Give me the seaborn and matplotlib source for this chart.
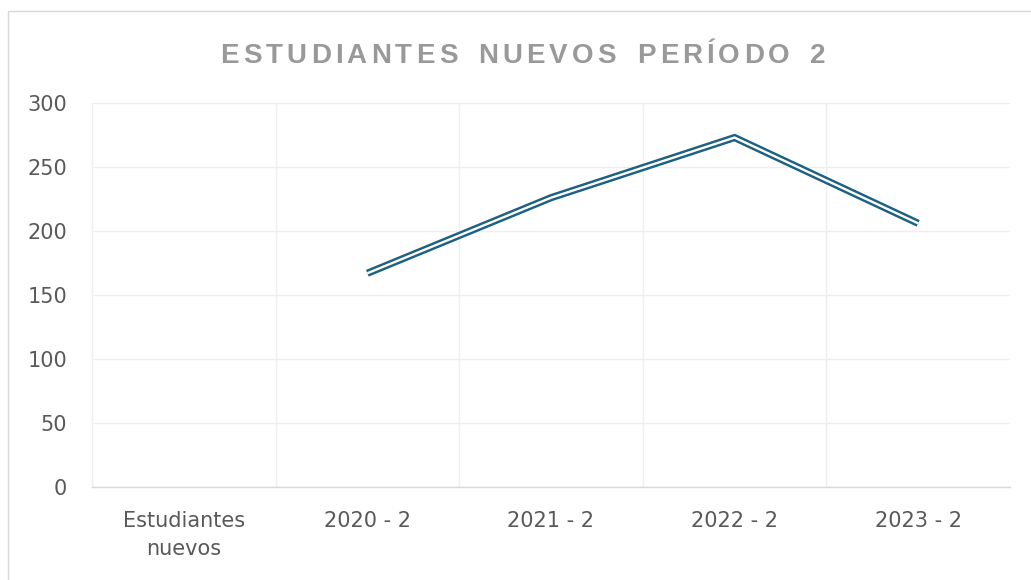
import matplotlib
matplotlib.use("Agg")
import matplotlib.pyplot as plt
import seaborn as sns
import numpy as np
import pandas as pd
from matplotlib.patches import Rectangle

# data
categorias = ["Estudiantes\nnuevos", "2020 - 2", "2021 - 2", "2022 - 2", "2023 - 2"]
estudiantes = [np.nan, 167, 226, 273, 206]
y_ticks = [0, 50, 100, 150, 200, 250, 300]
titulo = "ESTUDIANTES NUEVOS PERÍODO 2"

df = pd.DataFrame({"pos": range(len(categorias)), "valor": estudiantes})

sns.set_style("white")
plt.rcParams["font.family"] = ["DejaVu Sans"]

fig = plt.figure(figsize=(10.31, 5.80), dpi=100)
ax = fig.add_axes([0.0892, 0.1603, 0.8904, 0.6621])

# chart border (runs off the right and bottom of the image)
fig.patches.append(Rectangle((0.008, -0.2), 1.2, 1.181, transform=fig.transFigure,
                             fill=False, edgecolor="#d9d9d9", linewidth=1.0))

# double line: thick coloured stroke with a thin white stroke on top
linea = "#1c6082"
sns.lineplot(data=df, x="pos", y="valor", ax=ax, color=linea, linewidth=5.2,
             solid_joinstyle="miter", solid_capstyle="butt")
sns.lineplot(data=df, x="pos", y="valor", ax=ax, color="white", linewidth=1.7,
             solid_joinstyle="miter", solid_capstyle="butt")

ax.set_xlim(-0.5, len(categorias) - 0.5)
ax.set_ylim(0, 300)
ax.set_yticks(y_ticks)
ax.set_xticks(range(len(categorias)))
ax.set_xticklabels(categorias)
ax.set_xticks(np.arange(0.5, len(categorias) - 0.5, 1), minor=True)
ax.set_xlabel("")
ax.set_ylabel("")

ax.grid(axis="y", which="major", color="#eeeeee", linewidth=1.0)
ax.grid(axis="x", which="minor", color="#eeeeee", linewidth=1.0)
ax.set_axisbelow(True)

ax.tick_params(axis="both", which="both", length=0)
ax.tick_params(axis="y", labelsize=15, labelcolor="#595959", pad=18)
ax.tick_params(axis="x", labelsize=15, labelcolor="#595959", pad=17)
for lbl in ax.get_xticklabels():
    lbl.set_linespacing(1.5)

for s in ["top", "right"]:
    ax.spines[s].set_visible(False)
ax.spines["left"].set_color("#eeeeee")
ax.spines["bottom"].set_color("#d9d9d9")
ax.spines["left"].set_linewidth(1.0)
ax.spines["bottom"].set_linewidth(1.0)

# title with letter spacing, placed char by char
fig.canvas.draw()
renderer = fig.canvas.get_renderer()
tam = 20
props = dict(fontsize=tam, fontweight="bold", color="#999999", family="Liberation Sans")
anchos = []
for ch in titulo:
    if ch == " ":
        anchos.append(tam * 100 / 72 * 0.45)
        continue
    t = fig.text(0, 0, ch, **props)
    anchos.append(t.get_window_extent(renderer).width)
    t.remove()
x_ini, x_fin = 220, 826
espacio = (x_fin - x_ini - sum(anchos)) / (len(titulo) - 1)
x0 = x_ini
for ch, w in zip(titulo, anchos):
    if ch != " ":
        fig.text(x0 / 1031, 1 - 63 / 580, ch, ha="left", va="baseline", **props)
    x0 += w + espacio

fig.savefig("out.png", dpi=100)
